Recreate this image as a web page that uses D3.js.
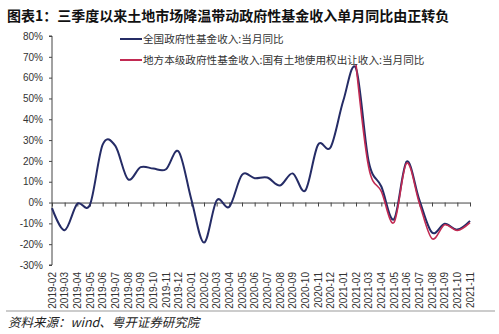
<!DOCTYPE html>
<html>
<head>
<meta charset="utf-8">
<script src="https://cdn.jsdelivr.net/npm/d3@7"></script>
<style>
  html, body { margin: 0; padding: 0; background: #fff; }
  svg { display: block; }
</style>
</head>
<body>
<svg id="chart" width="499" height="334"></svg>
<script>
// Month categories (x axis)
const months = [
  "2019-02","2019-03","2019-04","2019-05","2019-06","2019-07","2019-08","2019-09",
  "2019-10","2019-11","2019-12","2020-01","2020-02","2020-03","2020-04","2020-05",
  "2020-06","2020-07","2020-08","2020-09","2020-10","2020-11","2020-12","2021-01",
  "2021-02","2021-03","2021-04","2021-05","2021-06","2021-07","2021-08","2021-09",
  "2021-10","2021-11"
];

// 全国政府性基金收入:当月同比 (%)
const nationalFund = [
  -2.7, -13.3, -0.6, -1.0, 27.8, 27.2, 11.2, 17.0,
  16.3, 16.0, 24.5, 1.5, -19.2, 1.0, -2.0, 13.3,
  11.7, 12.0, 8.2, 14.0, 5.8, 27.7, 26.6, 49.0,
  64.5, 19.7, 7.7, -8.0, 19.7, 1.3, -14.4, -10.2,
  -13.0, -8.8
];

// 地方本级政府性基金收入:国有土地使用权出让收入:当月同比 (%), from 2021-02
const landMonths = [
  "2021-02","2021-03","2021-04","2021-05","2021-06","2021-07","2021-08","2021-09",
  "2021-10","2021-11"
];
const landTransfer = [
  66.5, 17.0, 5.3, -9.6, 18.9, -0.3, -17.3, -10.7,
  -13.4, -9.6
];

const yTicks = [80, 70, 60, 50, 40, 30, 20, 10, 0, -10, -20, -30];

const svg = d3.select("#chart");

const x = d3.scalePoint().domain(months).range([52, 470]);
const y = d3.scaleLinear().domain([-30, 80]).range([265, 36]);

// Title
svg.append("text")
  .attr("x", 7).attr("y", 21)
  .attr("font-family", "'Noto Sans CJK SC', sans-serif")
  .attr("font-weight", "bold")
  .attr("font-size", 14)
  .attr("fill", "#111")
  .text("图表1：三季度以来土地市场降温带动政府性基金收入单月同比由正转负");

// Y axis
const yAxis = d3.axisLeft(y)
  .tickValues(yTicks)
  .tickSize(3)
  .tickFormat(d => d + "%");
const gy = svg.append("g").attr("transform", "translate(52,0)").call(yAxis);
gy.select(".domain").attr("stroke", "#444").attr("d", "M-3,36H0V265H-3");
gy.selectAll(".tick line").attr("stroke", "#444");
gy.selectAll(".tick text")
  .attr("font-family", "'Liberation Sans', Arial, sans-serif")
  .attr("font-size", 10)
  .attr("fill", "#333")
  .attr("x", -9);

// X axis along the zero line
const xAxis = d3.axisBottom(x).tickSize(4).tickSizeOuter(0);
const gx = svg.append("g").attr("transform", `translate(0,${y(0)})`).call(xAxis);
gx.select(".domain").attr("stroke", "#444");
gx.selectAll(".tick line").attr("stroke", "#444");
gx.selectAll(".tick text").remove();

// Rotated month labels below the plot
svg.append("g").selectAll("text")
  .data(months)
  .join("text")
  .attr("transform", d => `translate(${x(d) + 3.5},272) rotate(-90)`)
  .attr("text-anchor", "end")
  .attr("font-family", "'Liberation Sans', Arial, sans-serif")
  .attr("font-size", 10)
  .attr("fill", "#333")
  .text(d => d);

// Smoothed lines
const line = d3.line().curve(d3.curveCatmullRom.alpha(0));

const navy = "#252c66";
const crimson = "#c22a52";

svg.append("path")
  .attr("d", line(months.map((m, i) => [x(m), y(nationalFund[i])])))
  .attr("fill", "none")
  .attr("stroke", navy)
  .attr("stroke-width", 2);

svg.append("path")
  .attr("d", line(landMonths.map((m, i) => [x(m), y(landTransfer[i])])))
  .attr("fill", "none")
  .attr("stroke", crimson)
  .attr("stroke-width", 1.6);

// Legend
const legend = [
  { label: "全国政府性基金收入:当月同比", color: navy, y: 39 },
  { label: "地方本级政府性基金收入:国有土地使用权出让收入:当月同比", color: crimson, y: 60 }
];
const lg = svg.append("g");
legend.forEach(item => {
  lg.append("line")
    .attr("x1", 120).attr("x2", 142)
    .attr("y1", item.y).attr("y2", item.y)
    .attr("stroke", item.color).attr("stroke-width", 2);
  lg.append("text")
    .attr("x", 143).attr("y", item.y + 4)
    .attr("font-family", "'Noto Sans CJK SC', sans-serif")
    .attr("font-size", 10.6)
    .attr("fill", "#333")
    .text(item.label);
});

// Source footer
svg.append("line")
  .attr("x1", 6).attr("x2", 495)
  .attr("y1", 311).attr("y2", 311)
  .attr("stroke", "#999").attr("stroke-width", 1);
svg.append("text")
  .attr("x", 8).attr("y", 327)
  .attr("font-family", "'Noto Sans CJK SC', sans-serif")
  .attr("font-style", "italic")
  .attr("font-size", 12.5)
  .attr("fill", "#222")
  .text("资料来源：wind、粤开证券研究院");
</script>
</body>
</html>
